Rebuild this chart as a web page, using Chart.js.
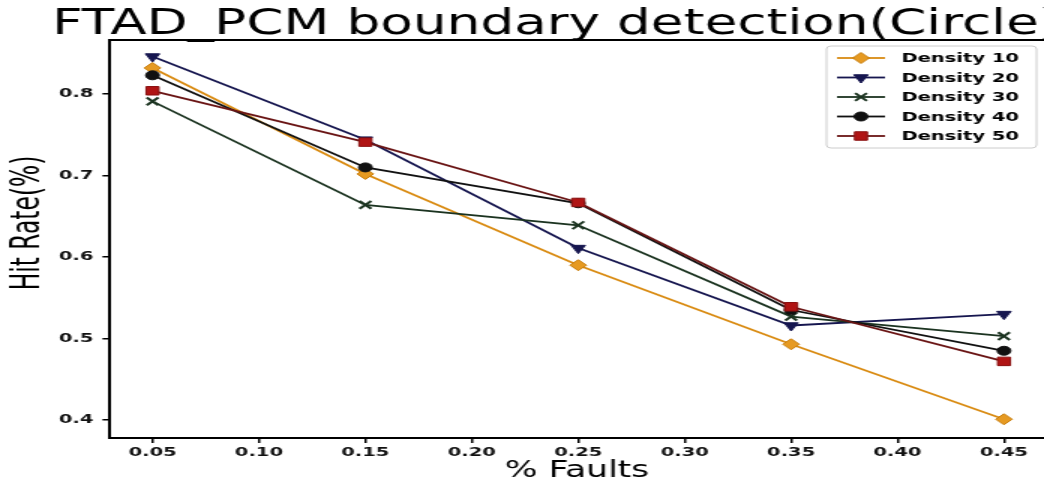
<!DOCTYPE html>
<html>
<head>
<meta charset="utf-8">
<script src="https://cdn.jsdelivr.net/npm/chart.js@4.4.1/dist/chart.umd.min.js"></script>
<style>
  html, body { margin: 0; padding: 0; background: #ffffff; }
  #hitChart { display: block; }
</style>
</head>
<body>
<!-- drawn at 696px wide and shown at 1044px, the source image is stretched sideways -->
<canvas id="hitChart" width="696" height="486" style="width:1044px;height:486px"></canvas>
<script>
const faults = [0.05, 0.15, 0.25, 0.35, 0.45];

const density_10 = [0.832, 0.702, 0.590, 0.493, 0.401];
const density_20 = [0.846, 0.744, 0.611, 0.516, 0.530];
const density_30 = [0.791, 0.664, 0.639, 0.527, 0.503];
const density_40 = [0.823, 0.710, 0.666, 0.535, 0.485];
const density_50 = [0.804, 0.741, 0.667, 0.539, 0.472];

const series_names = ['Density 10', 'Density 20', 'Density 30', 'Density 40', 'Density 50'];
const series_values = [density_10, density_20, density_30, density_40, density_50];

const x_ticks = [0.05, 0.10, 0.15, 0.20, 0.25, 0.30, 0.35, 0.40, 0.45];
const y_ticks = [0.4, 0.5, 0.6, 0.7, 0.8];

const title_text = 'FTAD_PCM boundary detection(Circle)';
const x_label = '% Faults';
const y_label = 'Hit Rate(%)';

// marker / colour per series
const styles = [
    { line: '#d98b12', fill: '#e69a22', edge: '#c77c0a', marker: 'rectRot',  rot: 0,   r: 5.5 },
    { line: '#16164f', fill: '#16164f', edge: '#16164f', marker: 'triangle', rot: 180, r: 5.5 },
    { line: '#1b3320', fill: '#1b3320', edge: '#1b3320', marker: 'crossRot', rot: 0,   r: 5.5 },
    { line: '#111111', fill: '#111111', edge: '#111111', marker: 'circle',   rot: 0,   r: 4.5 },
    { line: '#6a1515', fill: '#b01414', edge: '#8a1010', marker: 'rect',     rot: 0,   r: 6   }
];

const tick_font = { family: "'DejaVu Sans', sans-serif", size: 13, weight: 'bold' };

const datasets = series_names.map((name, i) => ({
    label: name,
    data: faults.map((f, j) => ({ x: f, y: series_values[i][j] })),
    borderColor: styles[i].line,
    borderWidth: 1.8,
    backgroundColor: styles[i].fill,
    pointStyle: styles[i].marker,
    pointRotation: styles[i].rot,
    pointRadius: styles[i].r,
    pointBackgroundColor: styles[i].fill,
    pointBorderColor: styles[i].edge,
    pointBorderWidth: styles[i].marker === 'crossRot' ? 2 : 1,
    tension: 0,
    order: series_names.length - i
}));

// title (runs off the right edge like the source) and y label
const texts = {
    id: 'texts',
    afterDraw(chart) {
        const { ctx } = chart;
        ctx.save();
        ctx.fillStyle = '#000';
        ctx.font = "35.5px 'DejaVu Sans', sans-serif";
        ctx.textAlign = 'left';
        ctx.textBaseline = 'alphabetic';
        ctx.fillText(title_text, 34.7, 34);

        ctx.translate(19, 223);
        ctx.rotate(-Math.PI / 2);
        ctx.font = "26px 'Liberation Sans Narrow', 'DejaVu Sans Condensed', sans-serif";
        ctx.textAlign = 'center';
        ctx.textBaseline = 'middle';
        ctx.fillText(y_label, 0, 0);
        ctx.restore();
    }
};

// top spine of the axes box
const top_spine = {
    id: 'top_spine',
    beforeDatasetsDraw(chart) {
        const { ctx, chartArea } = chart;
        ctx.save();
        ctx.strokeStyle = '#000';
        ctx.lineWidth = 2;
        ctx.beginPath();
        ctx.moveTo(chartArea.left - 1, chartArea.top);
        ctx.lineTo(chartArea.right, chartArea.top);
        ctx.stroke();
        ctx.restore();
    }
};

// legend box inside the upper right corner
const legend_in_axes = {
    id: 'legend_in_axes',
    afterDatasetsDraw(chart) {
        const { ctx, chartArea } = chart;
        const box_w = 140, box_h = 102;
        const left = chartArea.right - 5 - box_w;
        const top = chartArea.top + 6;
        ctx.save();
        ctx.fillStyle = 'rgba(255,255,255,0.85)';
        ctx.strokeStyle = '#cccccc';
        ctx.lineWidth = 1;
        ctx.beginPath();
        ctx.roundRect(left, top, box_w, box_h, 3);
        ctx.fill();
        ctx.stroke();

        series_names.forEach((name, i) => {
            const y = top + 12 + i * 19.5;
            const s = styles[i];
            ctx.strokeStyle = s.line;
            ctx.lineWidth = 1.8;
            ctx.beginPath();
            ctx.moveTo(left + 7, y);
            ctx.lineTo(left + 39, y);
            ctx.stroke();

            ctx.fillStyle = s.fill;
            ctx.strokeStyle = s.edge;
            ctx.lineWidth = s.marker === 'crossRot' ? 2 : 1;
            Chart.helpers.drawPoint(ctx, {
                pointStyle: s.marker,
                rotation: s.rot,
                radius: s.r,
                borderWidth: ctx.lineWidth
            }, left + 23, y);

            ctx.fillStyle = '#000';
            ctx.font = "bold 13px 'DejaVu Sans', sans-serif";
            ctx.textBaseline = 'middle';
            ctx.textAlign = 'left';
            ctx.fillText(name, left + 50, y + 1);
        });
        ctx.restore();
    }
};

const chart = new Chart(document.getElementById('hitChart'), {
    type: 'line',
    data: { datasets: datasets },
    options: {
        responsive: false,
        devicePixelRatio: 1,
        animation: false,
        layout: { autoPadding: false, padding: { top: 40, left: 0, right: 0, bottom: 0 } },
        plugins: {
            legend: { display: false },
            tooltip: { enabled: false },
            title: { display: false }
        },
        scales: {
            x: {
                type: 'linear',
                min: 0.03,
                max: 0.4688,
                afterBuildTicks: (scale) => { scale.ticks = x_ticks.map(v => ({ value: v })); },
                afterFit: (scale) => {
                    scale.height = 48;
                    scale.paddingLeft = 0;
                    scale.paddingRight = 0;
                },
                ticks: {
                    color: '#111',
                    font: tick_font,
                    padding: 2,
                    maxRotation: 0,
                    autoSkip: false,
                    callback: (v) => v.toFixed(2)
                },
                grid: { drawOnChartArea: false, drawTicks: true, tickLength: 5, tickColor: '#000', lineWidth: 1.5 },
                border: { color: '#000', width: 2 },
                title: {
                    display: true,
                    text: x_label,
                    color: '#000',
                    font: { family: "'DejaVu Sans', sans-serif", size: 23 },
                    padding: { top: 0, bottom: 1 }
                }
            },
            y: {
                type: 'linear',
                min: 0.378,
                max: 0.8663,
                afterBuildTicks: (scale) => { scale.ticks = y_ticks.map(v => ({ value: v })); },
                afterFit: (scale) => { scale.width = 73.3; },
                ticks: {
                    color: '#111',
                    font: tick_font,
                    padding: 6,
                    autoSkip: false,
                    callback: (v) => v.toFixed(1)
                },
                grid: { drawOnChartArea: false, drawTicks: true, tickLength: 5, tickColor: '#000', lineWidth: 1.5 },
                border: { color: '#000', width: 2 }
            }
        }
    },
    plugins: [top_spine, legend_in_axes, texts]
});
</script>
</body>
</html>
